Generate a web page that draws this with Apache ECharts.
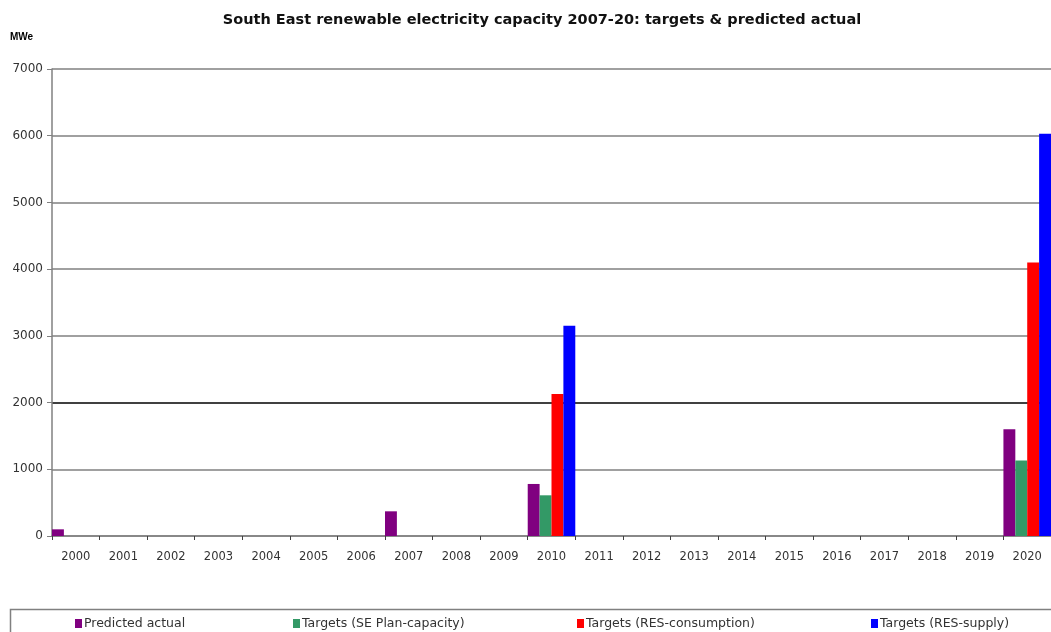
<!DOCTYPE html>
<html>
<head>
<meta charset="utf-8">
<script src="https://cdn.jsdelivr.net/npm/echarts@6/dist/echarts.min.js"></script>
<style>
  html, body { margin: 0; padding: 0; background: #fff; }
  #chart { width: 1051px; height: 632px; }
</style>
</head>
<body>
<div id="chart"></div>
<script>
// Years on the category axis
const years = ['2000','2001','2002','2003','2004','2005','2006','2007','2008','2009','2010',
               '2011','2012','2013','2014','2015','2016','2017','2018','2019','2020'];

// Capacity in MWe per year (null = no bar)
const predictedActual = [100,null,null,null,null,null,null,370,null,null,780,null,null,null,null,null,null,null,null,null,1600];
const sePlanCapacity  = [null,null,null,null,null,null,null,null,null,null,610,null,null,null,null,null,null,null,null,null,1130];
const resConsumption  = [null,null,null,null,null,null,null,null,null,null,2130,null,null,null,null,null,null,null,null,null,4100];
const resSupply       = [null,null,null,null,null,null,null,null,null,null,3150,null,null,null,null,null,null,null,null,null,6030];

const seriesNames = ['Predicted actual','Targets (SE Plan-capacity)','Targets (RES-consumption)','Targets (RES-supply)'];
const seriesColors = ['#800080','#339966','#ff0000','#0000ff'];
const seriesData = [predictedActual, sePlanCapacity, resConsumption, resSupply];
const legendLeft = [70, 288, 572, 866];

const FONT = '"DejaVu Sans", Verdana, sans-serif';

// Gridline colours from 0 up to 7000; the 2000 line is dark
const gridColors = ['#808080','#808080','#000000','#808080','#808080','#808080','#808080','#808080'];

const chart = echarts.init(document.getElementById('chart'), null, { renderer: 'canvas' });

chart.setOption({
  backgroundColor: '#ffffff',
  animation: false,
  title: {
    text: 'South East renewable electricity capacity 2007-20: targets & predicted actual',
    left: 537, top: 8, textAlign: 'center',
    textStyle: { fontFamily: FONT, fontSize: 14.5, fontWeight: 'bold', color: '#111' }
  },
  graphic: [
    { type: 'text', left: 10, top: 32,
      style: { text: 'MWe', font: 'bold 10px "Liberation Sans", Arial, sans-serif', fill: '#000' } },
    { type: 'rect', shape: { x: 10.5, y: 609.5, width: 1060, height: 40 },
      style: { fill: 'none', stroke: '#808080', lineWidth: 1.5 } }
  ],
  legend: seriesNames.map((name, i) => ({
    data: [name],
    left: legendLeft[i], top: 612,
    itemWidth: 7, itemHeight: 9, itemGap: 2,
    icon: 'rect',
    textStyle: { fontFamily: FONT, fontSize: 12.5, color: '#333', padding: [0,0,0,-3] }
  })),
  grid: { left: 52, top: 69, width: 1008, height: 467, containLabel: false },
  xAxis: {
    type: 'category',
    data: years,
    boundaryGap: true,
    axisLine: { lineStyle: { color: '#808080', width: 1.5 } },
    axisTick: { show: true, alignWithLabel: false, length: 4, lineStyle: { color: '#404040' } },
    axisLabel: { fontFamily: FONT, fontSize: 11.5, color: '#333', margin: 15 },
    splitLine: { show: false }
  },
  yAxis: {
    type: 'value',
    min: 0, max: 7000, interval: 1000,
    axisLine: { show: true, lineStyle: { color: '#808080', width: 1.5 } },
    axisTick: { show: true, length: 5, lineStyle: { color: '#808080' } },
    axisLabel: { fontFamily: FONT, fontSize: 12, color: '#333', margin: 9,
                 formatter: v => String(v) },
    splitLine: { show: true, lineStyle: { color: gridColors, width: 1.5 } }
  },
  series: seriesNames.map((name, i) => ({
    name: name,
    type: 'bar',
    data: seriesData[i],
    barGap: '0%',
    barCategoryGap: '0%',
    itemStyle: { color: seriesColors[i] }
  }))
});
</script>
</body>
</html>
